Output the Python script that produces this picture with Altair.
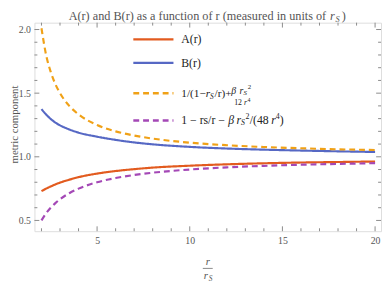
import altair as alt
import pandas as pd

# ---- data ----
r = [2, 2.25, 2.5, 2.75, 3, 3.5, 4, 5, 6, 7, 8, 10, 12, 14, 16, 18, 20]
A = [0.73, 0.75, 0.767, 0.783, 0.797, 0.82, 0.84, 0.868, 0.888, 0.903, 0.915, 0.93, 0.941, 0.949, 0.955, 0.959, 0.963]
B = [1.375, 1.332, 1.297, 1.269, 1.247, 1.215, 1.19, 1.158, 1.133, 1.113, 1.098, 1.078, 1.065, 1.056, 1.049, 1.043, 1.038]
A_approx = [2.01, 1.80, 1.667, 1.571, 1.5, 1.40, 1.333, 1.25, 1.2, 1.167, 1.143, 1.111, 1.091, 1.077, 1.067, 1.059, 1.053]
B_approx = [0.5, 0.556, 0.6, 0.636, 0.667, 0.714, 0.75, 0.8, 0.833, 0.857, 0.875, 0.9, 0.917, 0.929, 0.938, 0.944, 0.95]

series_names = ["A(r)", "B(r)", "approxA", "approxB"]
series_colors = ["#e25b1f", "#5668c4", "#f0a117", "#a448b6"]
series_dash = [[1, 0], [1, 0], [6, 4], [6, 4]]
series_width = [2.2, 2.2, 2.6, 2.6]

x_major = [5, 10, 15, 20]
x_minor = [2, 3, 4, 6, 7, 8, 9, 11, 12, 13, 14, 16, 17, 18, 19]
y_major = [0.5, 1.0, 1.5, 2.0]
y_minor = [0.6, 0.7, 0.8, 0.9, 1.1, 1.2, 1.3, 1.4, 1.6, 1.7, 1.8, 1.9]

rows = []
for name, vals in zip(series_names, [A, B, A_approx, B_approx]):
    for rv, v in zip(r, vals):
        rows.append({"r": rv, "v": v, "series": name})
df = pd.DataFrame(rows)

W, H = 354, 213
FONT = "Liberation Serif"
GRAY = "#8a8a8a"
TXT = "#555555"

xscale = alt.Scale(domain=[1.62, 20.32], nice=False, zero=False)
yscale = alt.Scale(domain=[0.41538, 2.0538], nice=False, zero=False)
xaxis = alt.Axis(values=x_major, format="d", title=None, ticks=False, domain=False, grid=False,
                 labelFont=FONT, labelFontSize=10, labelColor=TXT, labelPadding=5)
yaxis = alt.Axis(values=y_major, format=".1f", title=None, ticks=False, domain=False, grid=False,
                 labelFont=FONT, labelFontSize=10, labelColor=TXT, labelPadding=4)

lines = alt.Chart(df).mark_line(interpolate="monotone").encode(
    x=alt.X("r:Q", scale=xscale, axis=xaxis),
    y=alt.Y("v:Q", scale=yscale, axis=yaxis),
    color=alt.Color("series:N", scale=alt.Scale(domain=series_names, range=series_colors), legend=None),
    strokeDash=alt.StrokeDash("series:N", scale=alt.Scale(domain=series_names, range=series_dash), legend=None),
    strokeWidth=alt.StrokeWidth("series:N", scale=alt.Scale(domain=series_names, range=series_width), legend=None),
    detail="series:N",
)

def xticks(vals, length):
    d = pd.DataFrame({"r": vals})
    bot = alt.Chart(d).mark_rule(color=GRAY, strokeWidth=1).encode(
        x=alt.X("r:Q", scale=xscale, axis=xaxis), y=alt.value(H), y2=alt.value(H - length))
    top = alt.Chart(d).mark_rule(color=GRAY, strokeWidth=1).encode(
        x=alt.X("r:Q", scale=xscale, axis=xaxis), y=alt.value(0), y2=alt.value(length))
    return [bot, top]

def yticks(vals, length):
    d = pd.DataFrame({"v": vals})
    left = alt.Chart(d).mark_rule(color=GRAY, strokeWidth=1).encode(
        y=alt.Y("v:Q", scale=yscale, axis=yaxis), x=alt.value(0), x2=alt.value(length))
    right = alt.Chart(d).mark_rule(color=GRAY, strokeWidth=1).encode(
        y=alt.Y("v:Q", scale=yscale, axis=yaxis), x=alt.value(W), x2=alt.value(W - length))
    return [left, right]

one = pd.DataFrame({"_": [0]})

def txt(s, x, y, size=12, color="#222222", style="normal", align="left", angle=0):
    kw = dict(align=align, baseline="middle", font=FONT, fontSize=size, color=color, fontStyle=style)
    if angle:
        kw["angle"] = angle
    return alt.Chart(one).mark_text(**kw).encode(x=alt.value(x), y=alt.value(y), text=alt.value(s))

def seg(x1, x2, y, color, dash, width):
    return alt.Chart(one).mark_rule(color=color, strokeDash=dash, strokeWidth=width).encode(
        x=alt.value(x1), x2=alt.value(x2), y=alt.value(y))

layers = [lines]
layers += xticks(x_major, 5) + xticks(x_minor, 3)
layers += yticks(y_major, 5) + yticks(y_minor, 3)

# legend
lx1, lx2, tx = 101, 142, 150
ly = [17, 41, 72, 100]
for i in range(4):
    layers.append(seg(lx1, lx2, ly[i], series_colors[i], series_dash[i], series_width[i]))
layers.append(txt("A(r)", tx, ly[0]))
layers.append(txt("B(r)", tx, ly[1]))
# third label: 1/(1-r_S/r) + beta r_S^2 / (12 r^4)
y3 = 73
layers.append(txt("1/(1\u2212", tx, y3, size=11.5))
layers.append(txt("r", 175, y3, size=11.5, style="italic"))
layers.append(txt("S", 179.3, y3 + 3, size=7.5, style="italic"))
layers.append(txt("/r)+", 184, y3, size=11.5))
layers.append(txt("\u03b2", 201, 69.5, size=10, style="italic"))
layers.append(txt("r", 209.5, 69.5, size=10, style="italic"))
layers.append(txt("S", 213.5, 72, size=7, style="italic"))
layers.append(txt("2", 218, 65.5, size=7))
layers.append(txt("12", 204, 82.5, size=8))
layers.append(txt("r", 214, 82.5, size=8, style="italic"))
layers.append(txt("4", 217.5, 79.5, size=6))
# fourth label
y4 = ly[3]
layers.append(txt("1 \u2212 rs/r \u2212", tx, y4))
layers.append(txt("\u03b2", 198, y4, style="italic"))
layers.append(txt("r", 206.5, y4, style="italic"))
layers.append(txt("S", 211, y4 + 3, size=8, style="italic"))
layers.append(txt("2", 215.5, y4 - 4, size=8))
layers.append(txt("/(48", 220, y4))
layers.append(txt("r", 242, y4, style="italic"))
layers.append(txt("4", 246.5, y4 - 4, size=8))
layers.append(txt(")", 250.5, y4))

# title
ty = -7
layers.append(txt("A(r) and B(r) as a function of r (measured in units of", 298, ty, size=12.5, color=TXT, align="right"))
layers.append(txt("r", 302, ty, size=12.5, color=TXT, style="italic"))
layers.append(txt("S", 307.5, ty + 3, size=8.5, color=TXT, style="italic"))
layers.append(txt(")", 314, ty, size=12.5, color=TXT))

# axis titles
layers.append(txt("metric component", -20, 104, size=11, color=TXT, align="center", angle=270))
layers.append(txt("r", 177, 245, size=11, color=TXT, style="italic", align="center"))
layers.append(seg(172, 182, 251, TXT, [1, 0], 0.8))
layers.append(txt("r", 175, 259, size=11, color=TXT, style="italic", align="center"))
layers.append(txt("S", 180, 262, size=7.5, color=TXT, style="italic", align="center"))

chart = alt.layer(*layers).properties(
    width=W, height=H,
    autosize=alt.AutoSizeParams(type="none"),
    padding={"left": 27, "top": 12, "right": 1, "bottom": 54},
).configure_view(stroke=GRAY, strokeWidth=1).configure(background="white")

chart.save("out.html", embed_options={"renderer": "svg", "actions": False})
